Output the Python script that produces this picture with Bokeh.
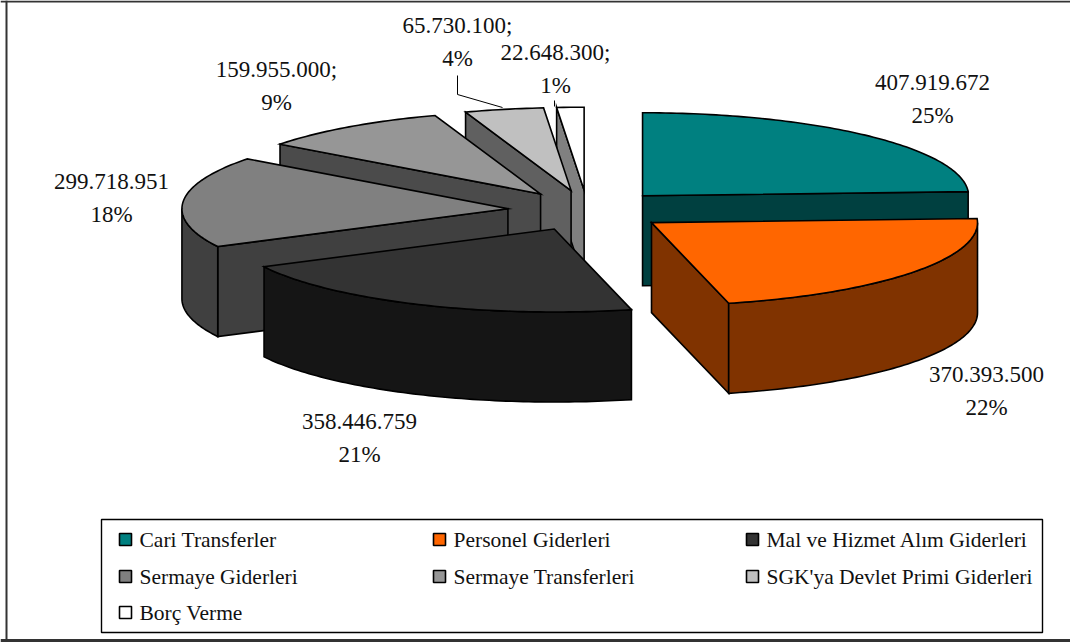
import math
from bokeh.plotting import figure
from bokeh.embed import file_html
from bokeh.resources import INLINE
from bokeh.core.properties import value

categories = ["Cari Transferler", "Personel Giderleri", "Mal ve Hizmet Alım Giderleri",
              "Sermaye Giderleri", "Sermaye Transferleri", "SGK'ya Devlet Primi Giderleri", "Borç Verme"]
amounts = [407919672, 370393500, 358446759, 299718951, 159955000, 65730100, 22648300]
percent_labels = ["25%", "22%", "21%", "18%", "9%", "4%", "1%"]
value_labels = ["407.919.672", "370.393.500", "358.446.759", "299.718.951",
                "159.955.000;", "65.730.100;", "22.648.300;"]

top_colors = ["#008080", "#FF6600", "#333333", "#808080", "#969696", "#C0C0C0", "#FFFFFF"]
side_colors = ["#004040", "#803300", "#151515", "#404040", "#4B4B4B", "#606060", "#808080"]

# layout of the projected pie
CX, CY, RX, RY, DEPTH, EXPLODE = 587, 210, 326, 83, 90, 0.245
LABEL_POS = [(932, 82), (986, 374), (359, 421), (111, 181), (276, 69), (457, 25), (555, 52)]
LINE_GAP = 32.5
SERIF = value("Liberation Serif")

p = figure(width=1070, height=642, x_range=(0, 1070), y_range=(642, 0),
           toolbar_location=None, output_backend="svg", min_border=0,
           outline_line_color=None, background_fill_color="white")
p.margin = (0, 0, 0, 0)
p.axis.visible = False
p.grid.visible = False

total = sum(amounts)
starts, ends = [], []
acc = 0.0
for a in amounts:
    starts.append(acc / total * 360)
    acc += a
    ends.append(acc / total * 360)


def pt(ox, oy, deg, drop=0):
    r = math.radians(deg)
    return ox + RX * math.sin(r), oy - RY * math.cos(r) + drop


def draw(xs, ys, color):
    p.patch(xs, ys, fill_color=color, line_color="black", line_width=1.6, line_join="miter")


mids = [(s + e) / 2 for s, e in zip(starts, ends)]
order = sorted(range(len(amounts)), key=lambda i: -math.cos(math.radians(mids[i])))
for i in order:
    s, e, m = starts[i], ends[i], mids[i]
    ox = CX + EXPLODE * RX * math.sin(math.radians(m))
    oy = CY - EXPLODE * RY * math.cos(math.radians(m))
    side = side_colors[i]
    # flat cut faces turned toward the viewer
    for ang, normal in ((s, s - 90), (e, e + 90)):
        if math.cos(math.radians(normal)) < -1e-6:
            x1, y1 = pt(ox, oy, ang)
            draw([ox, x1, x1, ox], [oy, y1, y1 + DEPTH, oy + DEPTH], side)
    # outer rim (front half of the ellipse only)
    a0, a1 = max(s, 90), min(e, 270)
    if a1 > a0:
        n = max(2, int(a1 - a0) + 1)
        angs = [a0 + (a1 - a0) * k / (n - 1) for k in range(n)]
        upper = [pt(ox, oy, t) for t in angs]
        lower = [pt(ox, oy, t, DEPTH) for t in reversed(angs)]
        draw([q[0] for q in upper + lower], [q[1] for q in upper + lower], side)
    # top face
    n = max(2, int(e - s) + 1)
    arc = [pt(ox, oy, s + (e - s) * k / (n - 1)) for k in range(n)]
    draw([ox] + [q[0] for q in arc], [oy] + [q[1] for q in arc], top_colors[i])

# leader lines
p.line([457, 457, 502], [75, 94, 107], line_color="black", line_width=1)
p.line([554, 554], [100, 106], line_color="black", line_width=1)

# data labels
for (lx, ly), v, pc in zip(LABEL_POS, value_labels, percent_labels):
    p.text([lx, lx], [ly, ly + LINE_GAP], text=[v, pc], text_align="center", text_baseline="middle",
           text_font=SERIF, text_font_size="23px", text_color="#111111")

# legend
p.quad(left=[101], right=[1042], top=[519], bottom=[632], fill_color="white",
       line_color="black", line_width=1.4)
col_x = [119, 433, 746]
row_y = [539, 576, 612]
for i, name in enumerate(categories):
    x = col_x[i % 3]
    y = row_y[i // 3]
    p.quad(left=[x], right=[x + 12], top=[y - 6], bottom=[y + 6], fill_color=top_colors[i],
           line_color="black", line_width=1.6)
    p.text([x + 20], [y], text=[name], text_align="left", text_baseline="middle",
           text_font=SERIF, text_font_size="21.5px", text_color="#111111")

# outer frame of the picture
p.line([6, 6], [0, 642], line_color="#333333", line_width=2)
p.line([0, 1070], [1, 1], line_color="#333333", line_width=2)
p.line([0, 1070], [640, 640], line_color="#333333", line_width=3)

open("out.html", "w").write(file_html(p, INLINE))
